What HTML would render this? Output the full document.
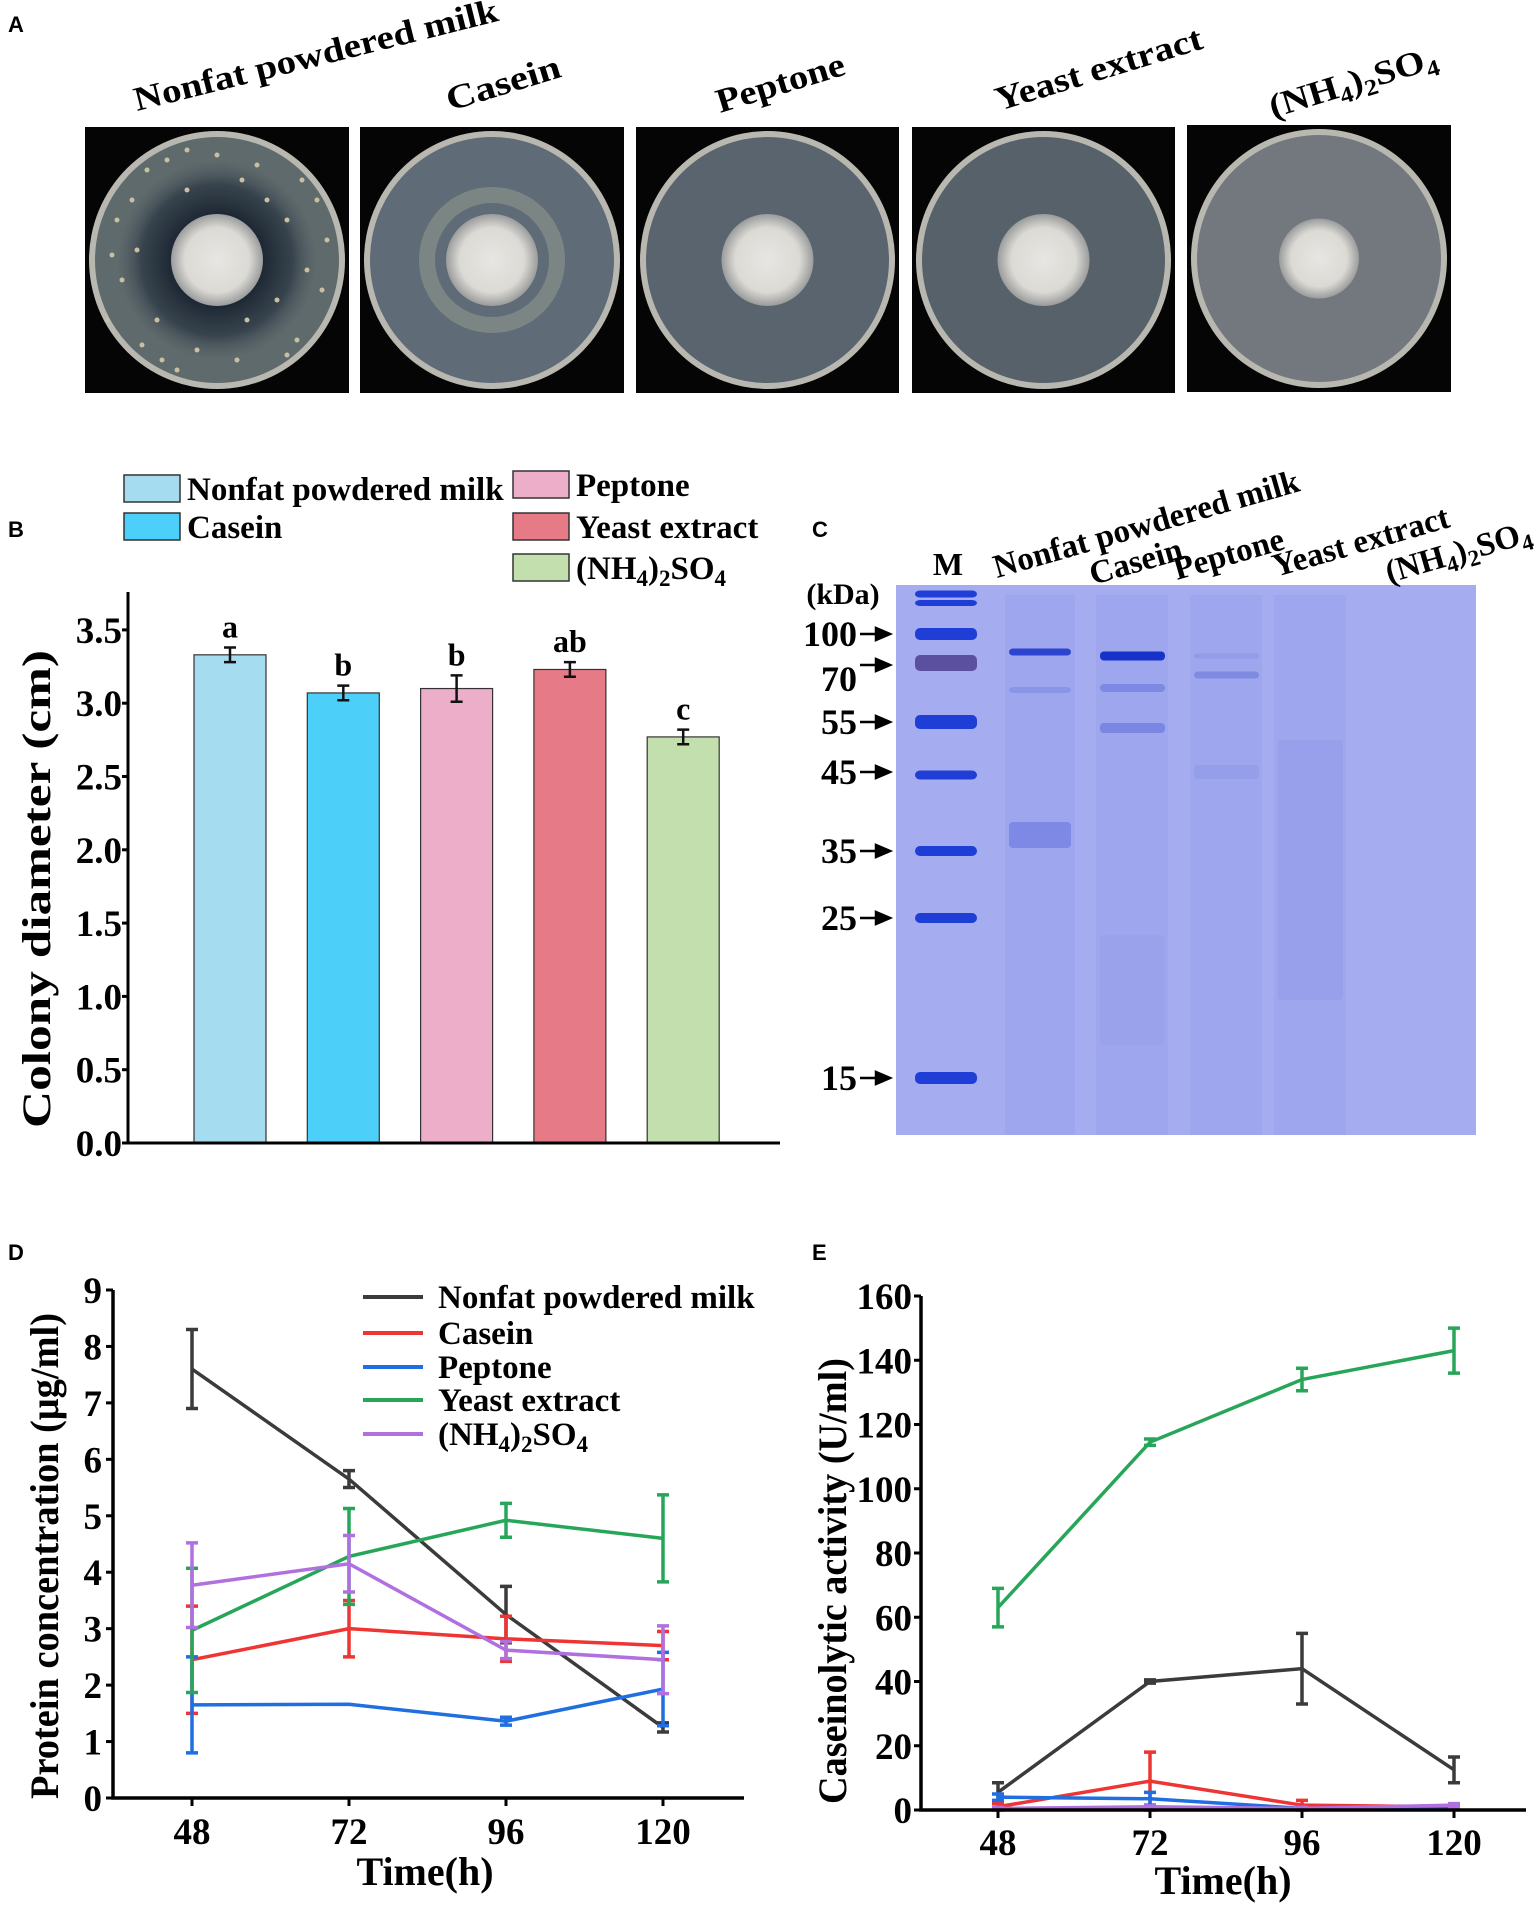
<!DOCTYPE html>
<html><head><meta charset="utf-8"><style>
html,body{margin:0;padding:0;background:#fff}
svg{display:block}
text{font-family:"Liberation Serif",serif;font-weight:bold;fill:#000}
.sans{font-family:"Liberation Sans",sans-serif}
</style></head><body>
<svg id="fig" width="1535" height="1906" viewBox="0 0 1535 1906" xmlns="http://www.w3.org/2000/svg">
<defs>
<radialGradient id="col" cx="50%" cy="50%" r="50%"><stop offset="0" stop-color="#e8e6e2"/><stop offset="0.7" stop-color="#dcdad5"/><stop offset="1" stop-color="#9a9c9c"/></radialGradient>
<radialGradient id="halo" cx="50%" cy="50%" r="50%"><stop offset="0.45" stop-color="#1c2733"/><stop offset="0.75" stop-color="#2c3844" stop-opacity="0.8"/><stop offset="1" stop-color="#4a5560" stop-opacity="0"/></radialGradient>
</defs>
<text class="sans" x="8" y="32" font-size="22">A</text>
<g id="plates"></g>
<text class="sans" x="8" y="537" font-size="22">B</text>
<g id="barChart"></g>
<text class="sans" x="812" y="537" font-size="22">C</text>
<g id="gel"></g>
<text class="sans" x="8" y="1260" font-size="22">D</text>
<g id="chartD"></g>
<text class="sans" x="812" y="1260" font-size="22">E</text>
<g id="chartE"></g>
</svg>
<script>
const NS="http://www.w3.org/2000/svg";
function mk(tag,attrs,parent,txt){const e=document.createElementNS(NS,tag);for(const k in attrs)e.setAttribute(k,attrs[k]);if(txt!==undefined)e.textContent=txt;parent.appendChild(e);return e;}
const SUB='(NH<tspan font-size="23" dy="7">4</tspan><tspan dy="-7">)</tspan><tspan font-size="23" dy="7">2</tspan><tspan dy="-7">SO</tspan><tspan font-size="23" dy="7">4</tspan>';

// ---------- Panel A: plates ----------
const plateNames=["Nonfat powdered milk","Casein","Peptone","Yeast extract","(NH4)2SO4"];
const plateBoxes=[[85,127,264,266],[360,127,264,266],[636,127,263,266],[912,127,263,266],[1187,125,264,267]];
const plateColors=["#5f6a6c","#5f6b77","#5a646e","#56616a","#72787d"];
const labelPos=[[137,111,374,-14],[450,111,118,-17],[720,113,133,-17],[999,111,215,-17],[1273,118,174,-17]];
const P=document.getElementById('plates');
plateBoxes.forEach((b,i)=>{
  const g=mk('g',{},P);
  
  
  mk('rect',{x:b[0],y:b[1],width:b[2],height:b[3],fill:'#050505'},g);
  const cx=b[0]+b[2]/2,cy=b[1]+b[3]/2,r=b[2]/2-4;
  mk('ellipse',{cx:cx,cy:cy,rx:r,ry:b[3]/2-4,fill:'#b9b8b0'},g);
  mk('ellipse',{cx:cx,cy:cy,rx:r-6,ry:b[3]/2-10,fill:plateColors[i]},g);
  if(i===0){
    mk('circle',{cx:cx,cy:cy,r:100,fill:'url(#halo)'},g);
    const sp=[[-70,-90],[-30,-70],[40,-95],[70,-40],[90,10],[-95,20],[-60,60],[20,100],[80,80],[-20,90],[-100,-40],[50,-60],[-80,-10],[100,-60],[0,-105],[-40,110],[60,40],[-110,60],[30,60],[-50,-100],[-85,-60],[105,30],[-30,-110],[70,95],[-75,85],[110,-20],[-105,-5],[25,-80],[85,-80],[-55,100]];
    sp.forEach(s=>mk('circle',{cx:cx+s[0],cy:cy+s[1],r:2.5,fill:'#c8c0a0'},g));
  }
  if(i===1){mk('circle',{cx:cx,cy:cy,r:65,fill:'none',stroke:'#7b8684','stroke-width':16},g);}
  const cr=(i===4)?40:46;
  mk('circle',{cx:cx,cy:cy,r:cr,fill:'url(#col)'},g);
  const L=labelPos[i];
  const t=mk('text',{x:L[0],y:L[1],'font-size':34,transform:`rotate(${L[3]} ${L[0]} ${L[1]})`,textLength:L[2],lengthAdjust:'spacingAndGlyphs'},P);
  
  
  if(i===4){t.innerHTML=SUB;}
  else t.textContent=plateNames[i];
});

// ---------- Panel B: bar chart ----------
const barCats=["Nonfat powdered milk","Casein","Peptone","Yeast extract","(NH4)2SO4"];
const barVals=[3.33,3.07,3.10,3.23,2.77];
const barErrs=[0.05,0.05,0.09,0.05,0.05];
const barLetters=["a","b","b","ab","c"];
const barColors=["#a6dcf0","#4ccff8","#ecaec8","#e67a86","#c4dfae"];
const barTicks=[0,0.5,1,1.5,2,2.5,3,3.5];
(function(){
  const G=document.getElementById('barChart');
  const x0=128,x1=780,yb=1143,ppu=146.6,bw=72,step=113.3,firstC=230;
  const Y=v=>yb-v*ppu;
  const X=i=>firstC+i*step;
  barVals.forEach((v,i)=>{
    const r=mk('rect',{x:X(i)-bw/2,y:Y(v),width:bw,height:yb-Y(v),fill:barColors[i],stroke:'#333','stroke-width':1.2},G);
    
    
    const e=barErrs[i];
    const eb=mk('path',{d:`M${X(i)} ${Y(v+e)}V${Y(v-e)}M${X(i)-6} ${Y(v+e)}H${X(i)+6}M${X(i)-6} ${Y(v-e)}H${X(i)+6}`,stroke:'#111','stroke-width':2.5,fill:'none'},G);
    
    
    const lt=mk('text',{x:X(i),y:Y(v+e)-10,'font-size':32,'text-anchor':'middle'},G,barLetters[i]);
    
    
  });
  mk('path',{d:`M${x0} 592V${yb}H${x1}`,stroke:'#000','stroke-width':3,fill:'none'},G);
  barTicks.forEach(t=>{
    mk('line',{x1:x0-6,x2:x0,y1:Y(t),y2:Y(t),stroke:'#000','stroke-width':3},G);
    const tl=mk('text',{x:x0-6,y:Y(t)+13,'font-size':37,'text-anchor':'end'},G,t.toFixed(1));
    
    
  });
  const yt=mk('text',{x:0,y:0,'font-size':40,'text-anchor':'middle',transform:'translate(50 889) rotate(-90)',textLength:478,lengthAdjust:'spacingAndGlyphs'},G,'Colony diameter (cm)');
  
  
  const leg=[[124,475],[124,513],[513,471],[513,513],[513,554]];
  barCats.forEach((c,i)=>{
    const L=leg[i];
    const r=mk('rect',{x:L[0],y:L[1],width:56,height:27,fill:barColors[i],stroke:'#333','stroke-width':1.5},G);
    
    
    const t=mk('text',{x:L[0]+63,y:L[1]+25,'font-size':33},G);
    
    
    if(i===4)t.innerHTML=SUB;
    else t.textContent=c;
  });
})();

// ---------- Panel C: gel ----------
(function(){
  const G=document.getElementById('gel');
  const gx=896,gy=585,gw=580,gh=550;
  mk('rect',{x:gx,y:gy,width:gw,height:gh,fill:'#a6acf0'},G);
  [[1005,70],[1096,72],[1190,72],[1274,72]].forEach(l=>mk('rect',{x:l[0],y:gy+10,width:l[1],height:gh-10,fill:'#9aa1ec',opacity:0.6},G));
  const markerBands=[[594,7],[603,6],[634,12],[663,16],[722,14],[775,9],[851,10],[918,10],[1078,12]];
  markerBands.forEach(b=>mk('rect',{x:915,y:b[0]-b[1]/2,width:62,height:b[1],rx:5,fill:b[0]===663?'#5b4fa0':'#1e3ed6'},G));
  const bands=[[1009,652,62,7,'#2c44d0'],[1009,690,62,6,'#8a95e6'],[1009,835,62,26,'#7d89e4'],[1100,656,65,9,'#1632c8'],[1100,688,65,8,'#7d89e2'],[1100,728,65,10,'#7a86e2'],[1194,656,65,5,'#939ae8'],[1194,675,65,7,'#7f8be0'],[1194,772,65,14,'#959ee8'],[1278,844,65,24,'#6573dc'],[1100,990,65,110,'#9ba2ec'],[1278,870,65,260,'#98a0ec']];
  bands.forEach(b=>mk('rect',{x:b[0],y:b[1]-b[3]/2,width:b[2],height:b[3],rx:4,fill:b[4]},G));
  const kda=[["100",634],["70",665],["55",722],["45",772],["35",851],["25",918],["15",1078]];
  kda.forEach(k=>{
    const ly=k[0]==="70"?679:k[1];
    const t=mk('text',{x:857,y:ly+12,'font-size':36,'text-anchor':'end'},G,k[0]);
    
    
    mk('path',{d:`M860 ${k[1]}H884M876 ${k[1]-6}L890 ${k[1]}L876 ${k[1]+6}Z`,stroke:'#000','stroke-width':2.5,fill:'#000'},G);
  });
  mk('text',{x:843,y:604,'font-size':30,'text-anchor':'middle'},G,'(kDa)');
  mk('text',{x:948,y:575,'font-size':32,'text-anchor':'middle'},G,'M');
  const lanes=[["Nonfat powdered milk",997,578],["Casein",1093,585],["Peptone",1177,580],["Yeast extract",1276,577],["NH",1389,583]];
  lanes.forEach((l,i)=>{
    const t=mk('text',{x:l[1],y:l[2],'font-size':33,transform:`rotate(-16 ${l[1]} ${l[2]})`},G);
    
    
    if(i===4)t.innerHTML=SUB;
    else t.textContent=l[0];
  });
})();

// ---------- Panels D and E: line charts ----------
const timeCats=[48,72,96,120];
const seriesNames=["Nonfat powdered milk","Casein","Peptone","Yeast extract","(NH4)2SO4"];
const seriesColors=["#3b3b3b","#ef3434","#1f6fe0","#27a65a","#b070e0"];
const dMilk=[7.6,5.65,3.25,1.25];      const dMilkErr=[0.7,0.15,0.5,0.08];
const dCasein=[2.45,3.0,2.82,2.7];     const dCaseinErr=[0.95,0.5,0.4,0.25];
const dPeptone=[1.65,1.66,1.36,1.93];  const dPeptoneErr=[0.85,0,0.07,0.65];
const dYeast=[2.97,4.28,4.92,4.6];     const dYeastErr=[1.1,0.85,0.3,0.77];
const dNH4=[3.77,4.15,2.62,2.45];      const dNH4Err=[0.75,0.5,0.15,0.6];
const dTicks=[0,1,2,3,4,5,6,7,8,9];
const eMilk=[5.5,40,44,12.5];          const eMilkErr=[3,0.5,11,4];
const eCasein=[1,9,1.5,1];             const eCaseinErr=[1,9,1.5,0.5];
const ePeptone=[4,3.5,0.5,0.5];        const ePeptoneErr=[1,2,0.3,0.3];
const eYeast=[63,114.5,134,143];       const eYeastErr=[6,1,3.5,7];
const eNH4=[0.5,1,0.5,1.5];            const eNH4Err=[0.3,0.3,0.3,0.5];
const eTicks=[0,20,40,60,80,100,120,140,160];

function lineChart(id,cfg,series,errs,ticks){
  const G=document.getElementById(id);
  const X=i=>cfg.xs[0]+i*(cfg.xs[1]-cfg.xs[0]);
  const Y=v=>cfg.y0-(v-0)/(ticks[ticks.length-1])*(cfg.y0-cfg.yTop);
  series.forEach((s,k)=>{
    const c=seriesColors[k];
    s.forEach((v,i)=>{
      const e=errs[k][i];if(e<=0.01)return;
      const eb=mk('path',{d:`M${X(i)} ${Y(v+e)}V${Y(v-e)}M${X(i)-6} ${Y(v+e)}H${X(i)+6}M${X(i)-6} ${Y(Math.max(v-e,0))}H${X(i)+6}`,stroke:c,'stroke-width':3.5,fill:'none'},G);
      
      
    });
    const ln=mk('polyline',{points:s.map((v,i)=>X(i)+','+Y(v)).join(' '),stroke:c,'stroke-width':3.5,fill:'none'},G);
    
    
  });
  mk('path',{d:`M${cfg.x0} ${cfg.yTop}V${cfg.y0}H${cfg.x1}`,stroke:'#000','stroke-width':3.5,fill:'none'},G);
  ticks.forEach(t=>{
    mk('line',{x1:cfg.x0-7,x2:cfg.x0,y1:Y(t),y2:Y(t),stroke:'#000','stroke-width':3},G);
    const tl=mk('text',{x:cfg.tickRight,y:Y(t)+13,'font-size':37,'text-anchor':'end'},G,String(t));
    
    
  });
  timeCats.forEach((t,i)=>{
    mk('line',{x1:X(i),x2:X(i),y1:cfg.y0,y2:cfg.y0+8,stroke:'#000','stroke-width':3},G);
    const tl=mk('text',{x:X(i),y:cfg.xLabY,'font-size':37,'text-anchor':'middle'},G,String(t));
    
    
  });
  const xt=mk('text',{x:cfg.xTitleX,y:cfg.xTitleY,'font-size':40,'text-anchor':'middle'},G,'Time(h)');
  
  
  const yt=mk('text',{x:0,y:0,'font-size':40,'text-anchor':'middle',transform:`translate(${cfg.yTitleX} ${cfg.yTitleY}) rotate(-90)`,textLength:cfg.yTitleLen,lengthAdjust:'spacingAndGlyphs'},G,cfg.yTitle);
  
  
  if(cfg.legend){
    const ly=[1297,1333,1367,1400,1434];
    seriesNames.forEach((n,k)=>{
      mk('line',{x1:363,x2:423,y1:ly[k],y2:ly[k],stroke:seriesColors[k],'stroke-width':4},G);
      const t=mk('text',{x:438,y:ly[k]+11,'font-size':33},G);
      
      
      if(k===4)t.innerHTML=SUB;
      else t.textContent=n;
    });
  }
}
lineChart('chartD',{xs:[192,349],x0:113,x1:744,y0:1798,yTop:1290,tickRight:102,xLabY:1844,xTitleX:425,xTitleY:1885,yTitleX:58,yTitleY:1556,yTitleLen:486,yTitle:'Protein concentration (μg/ml)',legend:true},
  [dMilk,dCasein,dPeptone,dYeast,dNH4],[dMilkErr,dCaseinErr,dPeptoneErr,dYeastErr,dNH4Err],dTicks);
lineChart('chartE',{xs:[998,1150],x0:921,x1:1526,y0:1810,yTop:1296,tickRight:912,xLabY:1855,xTitleX:1223,xTitleY:1894,yTitleX:846,yTitleY:1581,yTitleLen:446,yTitle:'Caseinolytic activity (U/ml)',legend:false},
  [eMilk,eCasein,ePeptone,eYeast,eNH4],[eMilkErr,eCaseinErr,ePeptoneErr,eYeastErr,eNH4Err],eTicks);
</script>
</body></html>
